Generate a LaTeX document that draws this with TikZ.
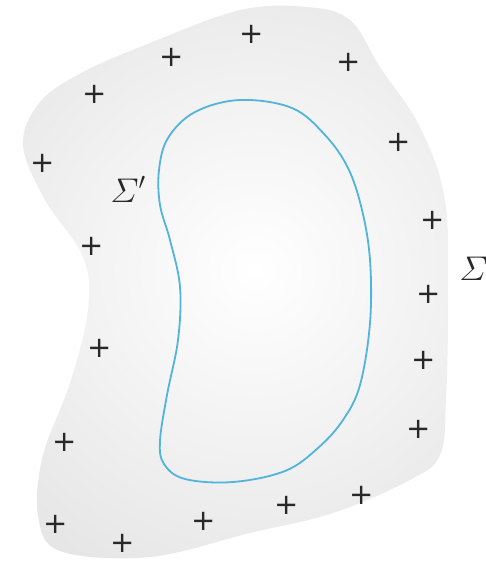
\documentclass[tikz,border=0pt]{standalone}
\usepackage{amsmath}
\usepackage{fontspec}
\newfontfamily\chargefont{DejaVu Sans}
\definecolor{beanblue}{RGB}{80,180,220}
\definecolor{chargegray}{RGB}{40,40,40}
\tikzset{
	charge/.style={font=\chargefont\fontsize{29}{29}\selectfont,text=chargegray,inner sep=0pt},
	surflabel/.style={font=\huge,text=chargegray,inner sep=0pt,anchor=base west,scale=1.65}
}

\begin{document}
\begin{tikzpicture}[x=1pt,y=-1pt]
		\useasboundingbox (0,0) rectangle (485,565);
		\begin{scope}
			\clip plot[smooth cycle,tension=0.6] coordinates {(23,145) (40,102) (83,72) (150,43) (240,10) (307,7) (350,20) (380,67) (420,127) (445,200) (448,300) (446,400) (440,455) (410,480) (333,513) (250,533) (150,557) (60,551) (38,515) (43,455) (70,383) (88,310) (83,257) (45,200)};
			\shade[inner color=white,outer color=black!14] (255,270) circle (480);
		\end{scope}
		\draw[beanblue,line width=1.8pt] plot[smooth cycle,tension=0.6] coordinates {(240,100) (292,108) (325,135) (348,168) (362,210) (370,260) (370,323) (360,385) (343,420) (318,448) (285,471) (233,482) (185,479) (164,464) (160,441) (167,395) (178,340) (180,287) (170,240) (160,205) (159,170) (168,138) (195,112)};
		\foreach \x/\y [count=\i] in {252/34,172/57,349/62,95/94,399/142,43/163,433/220,92/246,429/294,100/348,424/360,65/442,419/429,362/495,287/505,204/521,56/524,123/543}
			\node[charge] (q\i) at (\x,\y) {+};
		\node[surflabel] (sigout) at (459,280) {$\varSigma$};
		\node[surflabel] (sigin) at (110,202) {$\varSigma'$};
\end{tikzpicture}
\end{document}
